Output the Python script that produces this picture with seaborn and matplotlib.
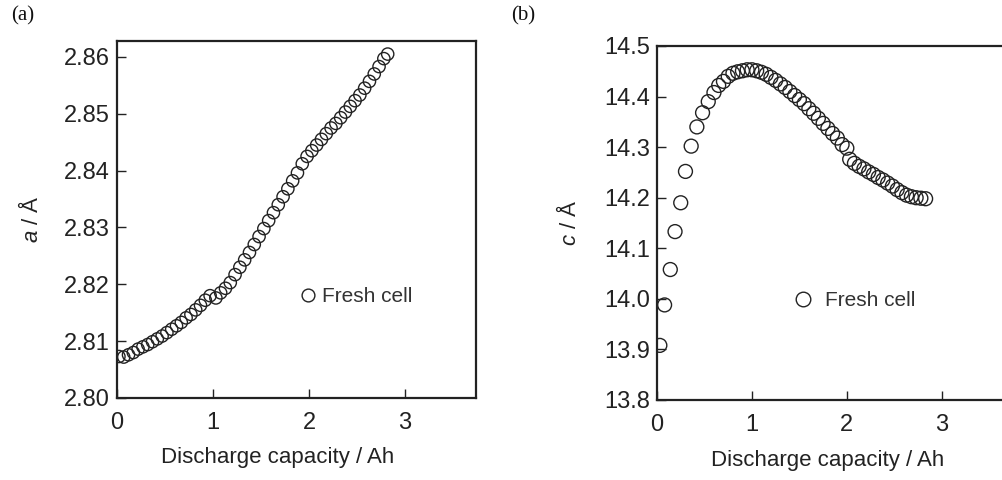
import matplotlib
matplotlib.use("Agg")
import matplotlib.pyplot as plt
from matplotlib.lines import Line2D
import seaborn as sns
import pandas as pd

# ---- data ----
cap_a = [0.02, 0.07, 0.12, 0.17, 0.22, 0.27, 0.32, 0.37, 0.42, 0.47, 0.52, 0.57,
         0.62, 0.67, 0.72, 0.77, 0.82, 0.87, 0.92, 0.97, 1.03, 1.08, 1.13, 1.18,
         1.23, 1.28, 1.33, 1.38, 1.43, 1.48, 1.53, 1.58, 1.63, 1.68, 1.73, 1.78,
         1.83, 1.88, 1.93, 1.98, 2.03, 2.08, 2.13, 2.18, 2.23, 2.28, 2.33, 2.38,
         2.43, 2.48, 2.53, 2.58, 2.63, 2.68, 2.73, 2.78, 2.82]
a_param = [2.8073, 2.8072, 2.8076, 2.8080, 2.8086, 2.8090, 2.8094, 2.8099, 2.8104,
           2.8109, 2.8115, 2.8121, 2.8127, 2.8133, 2.8141, 2.8147, 2.8155, 2.8163,
           2.8172, 2.8180, 2.8176, 2.8185, 2.8193, 2.8203, 2.8217, 2.8230, 2.8243,
           2.8256, 2.8270, 2.8284, 2.8298, 2.8312, 2.8326, 2.8340, 2.8354, 2.8368,
           2.8382, 2.8396, 2.8412, 2.8425, 2.8435, 2.8445, 2.8455, 2.8465, 2.8475,
           2.8483, 2.8493, 2.8503, 2.8513, 2.8523, 2.8533, 2.8545, 2.8557, 2.8570,
           2.8583, 2.8597, 2.8605]

cap_c = [0.03, 0.08, 0.14, 0.19, 0.25, 0.30, 0.36, 0.42, 0.48, 0.54, 0.60, 0.65,
         0.70, 0.75, 0.80, 0.85, 0.90, 0.95, 1.00, 1.05, 1.10, 1.15, 1.20, 1.25,
         1.30, 1.35, 1.40, 1.45, 1.50, 1.55, 1.60, 1.65, 1.70, 1.75, 1.80, 1.85,
         1.90, 1.95, 2.00, 2.03, 2.08, 2.13, 2.18, 2.23, 2.28, 2.33, 2.38, 2.43,
         2.48, 2.53, 2.58, 2.63, 2.68, 2.73, 2.78, 2.83]
c_param = [13.908, 13.988, 14.058, 14.133, 14.190, 14.252, 14.302, 14.340, 14.368,
           14.390, 14.408, 14.422, 14.430, 14.440, 14.446, 14.449, 14.451, 14.453,
           14.453, 14.451, 14.448, 14.444, 14.438, 14.432, 14.425, 14.418, 14.410,
           14.402, 14.394, 14.386, 14.376, 14.367, 14.357, 14.347, 14.337, 14.327,
           14.318, 14.305, 14.298, 14.276, 14.268, 14.262, 14.257, 14.251, 14.246,
           14.240, 14.235, 14.229, 14.223, 14.216, 14.210, 14.205, 14.202, 14.200,
           14.199, 14.198]

xticks = [0, 1, 2, 3]
a_ticks = [2.80, 2.81, 2.82, 2.83, 2.84, 2.85, 2.86]
c_ticks = [13.8, 13.9, 14.0, 14.1, 14.2, 14.3, 14.4, 14.5]
series_label = "Fresh cell"
xlabel = "Discharge capacity / Ah"

df_a = pd.DataFrame({"cap": cap_a, "val": a_param})
df_c = pd.DataFrame({"cap": cap_c, "val": c_param})

# ---- style ----
sns.set_theme(style="white")
plt.rcParams["font.family"] = ["Liberation Sans", "DejaVu Sans"]
plt.rcParams["mathtext.fontset"] = "custom"
plt.rcParams["mathtext.it"] = "Liberation Sans:italic"
plt.rcParams["mathtext.rm"] = "Liberation Sans"
ink = "#222222"

fig = plt.figure(figsize=(10.03, 4.8), dpi=100)
ax1 = fig.add_axes([117/1003, 82/480, 359/1003, 357/480])
ax2 = fig.add_axes([657/1003, 80/480, 355/1003, 354/480])

sns.scatterplot(data=df_a, x="cap", y="val", ax=ax1, marker="o", s=78,
                facecolor="none", edgecolor=ink, linewidth=1.0, legend=False)
sns.scatterplot(data=df_c, x="cap", y="val", ax=ax2, marker="o", s=100,
                facecolor="none", edgecolor=ink, linewidth=1.0, legend=False)

ax1.set_xlim(0, 3.74)
ax1.set_ylim(2.80, 2.8628)
ax1.set_yticks(a_ticks)
ax1.set_yticklabels([f"{t:.2f}" for t in a_ticks])
ax2.set_xlim(0, 3.74)
ax2.set_ylim(13.8, 14.5)
ax2.set_yticks(c_ticks)
ax2.set_yticklabels([f"{t:.1f}" for t in c_ticks])

for ax in (ax1, ax2):
    ax.set_xticks(xticks)
    ax.set_xticklabels([str(t) for t in xticks])
    for sp in ax.spines.values():
        sp.set_color(ink)
        sp.set_linewidth(1.6)
        sp.set_visible(True)
    ax.tick_params(direction="in", length=6.5, width=1.0, color=ink,
                   labelsize=17, labelcolor=ink, pad=5,
                   bottom=True, left=True, top=False, right=False)
    ax.tick_params(axis="x", pad=10)
    ax.set_xlabel(xlabel, fontsize=16, color=ink)

ax1.xaxis.set_label_coords(0.448, -0.138)
ax2.xaxis.set_label_coords(0.48, -0.14)
ax1.set_ylabel(r"$\it{a}$ / Å", fontsize=16, color=ink, labelpad=15)
ax2.set_ylabel(r"$\it{c}$ / Å", fontsize=16, color=ink, labelpad=17)

h1 = Line2D([], [], marker="o", ls="none", mfc="none", mec=ink, mew=1.0, ms=9.2)
h2 = Line2D([], [], marker="o", ls="none", mfc="none", mec=ink, mew=1.0, ms=10.5)
ax1.legend(handles=[h1], labels=[series_label], loc="center left",
           bbox_to_anchor=(0.503, 0.283), frameon=False, borderpad=0,
           borderaxespad=0, handlelength=1.0, handletextpad=0.15,
           prop={"size": 15}, labelcolor="#333333")
ax2.legend(handles=[h2], labels=[series_label], loc="center left",
           bbox_to_anchor=(0.382, 0.28), frameon=False, borderpad=0,
           borderaxespad=0, handlelength=1.0, handletextpad=0.55,
           prop={"size": 15}, labelcolor="#333333")

fig.text(23/1003, 1 - 16/480, "(a)", ha="center", va="center", fontsize=15,
         family=["Liberation Serif", "DejaVu Serif"], color="#111111")
fig.text(523/1003, 1 - 16/480, "(b)", ha="center", va="center", fontsize=15,
         family=["Liberation Serif", "DejaVu Serif"], color="#111111")

fig.savefig("out.png", dpi=100, facecolor="white")
